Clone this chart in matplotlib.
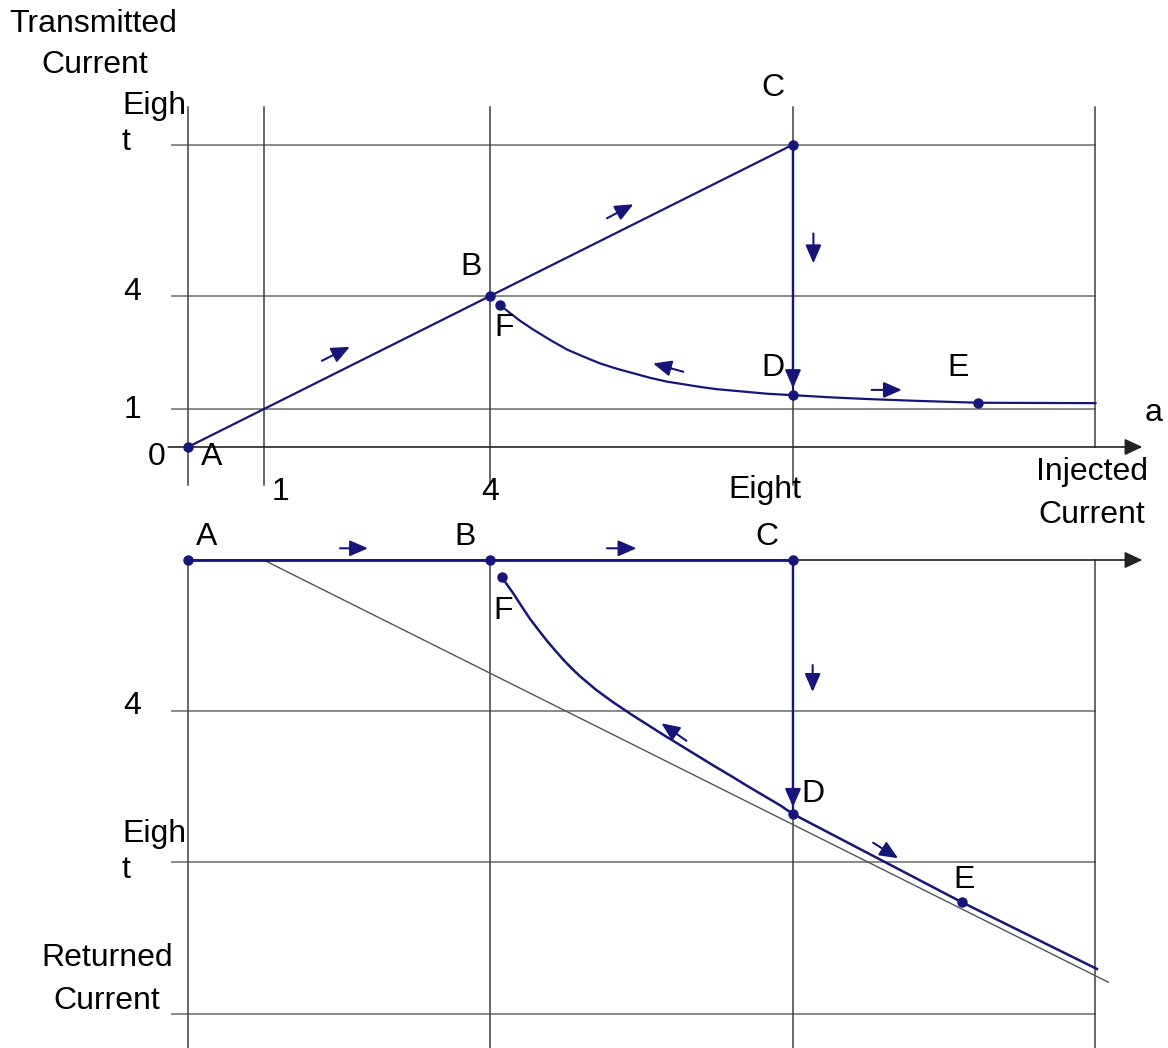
import matplotlib
matplotlib.use("Agg")
import matplotlib.pyplot as plt

plt.rcParams['font.family'] = ['Liberation Sans', 'DejaVu Sans']

NAVY = '#16167a'
GAP = 2.99  # vertical offset between the two panels (in current units)

# --- upper panel: transmitted current vs injected current ---
rise_inj = [0, 1, 4, 8]
rise_trans = [0, 1, 4, 8]
fall_inj = [4.13, 4.26, 4.39, 4.57, 4.79, 5.01, 5.23, 5.45, 5.67, 5.89, 6.11, 6.33,
            6.55, 6.77, 6.99, 7.21, 7.43, 7.65, 8.0, 8.53, 8.97, 9.64, 10.45, 11.2, 12.0]
fall_trans = [3.75, 3.54, 3.34, 3.10, 2.83, 2.58, 2.39, 2.21, 2.07, 1.95, 1.83, 1.73,
              1.66, 1.59, 1.53, 1.49, 1.45, 1.41, 1.37, 1.31, 1.27, 1.22, 1.17, 1.165, 1.16]

pt_names = ['A', 'B', 'C', 'D', 'E', 'F']
top_pt_inj = [0, 4, 8, 8, 10.45, 4.13]
top_pt_trans = [0, 4, 8, 1.37, 1.17, 3.75]

# --- lower panel: returned current vs injected current ---
flat_inj = [0, 4, 8]
flat_ret = [0, 0, 0]
ret_inj = [4.15, 4.19, 4.30, 4.41, 4.52, 4.63, 4.74, 4.85, 4.96, 5.07, 5.18, 5.40,
           5.62, 5.85, 6.07, 6.29, 6.51, 6.73, 6.95, 7.17, 7.39, 7.61, 7.83, 8.0,
           10.23, 12.02]
ret_val = [0.44, 0.57, 0.88, 1.22, 1.55, 1.84, 2.12, 2.38, 2.63, 2.86, 3.07, 3.44,
           3.76, 4.07, 4.35, 4.63, 4.90, 5.17, 5.44, 5.70, 5.97, 6.23, 6.49, 6.72,
           9.05, 10.82]
ref_inj = [1, 12.17]
ref_ret = [0, 11.17]

bot_pt_inj = [0, 4, 8, 8, 10.23, 4.15]
bot_pt_ret = [0, 0, 0, 6.72, 9.05, 0.44]

top_grid_y = [1, 4, 8]
top_grid_x = [0, 1, 4, 8]
bot_grid_r = [4, 8, 12]
bot_grid_x = [0, 4, 8, 12]


def low(r):
    return -GAP - r


fig = plt.figure(figsize=(11.68, 10.48), dpi=100)
ax = fig.add_axes([0, 0, 1, 1])
ax.set_xlim(-2.486, 12.959)
ax.set_ylim(-15.9, 11.825)
ax.axis('off')

hcol, vcol = '#808080', '#404040'

# grid of the upper panel
for y in top_grid_y:
    ax.plot([-0.21, 12], [y, y], color=hcol, lw=1.3, zorder=1)
for x in top_grid_x:
    ax.plot([x, x], [9.0, -1.0], color=vcol, lw=1.1, zorder=1)
ax.plot([12, 12], [9.0, 0], color=vcol, lw=1.1, zorder=1)

# grid of the lower panel
for r in bot_grid_r:
    ax.plot([-0.21, 12], [low(r), low(r)], color=hcol, lw=1.3, zorder=1)
for x in bot_grid_x:
    ax.plot([x, x], [low(0), -16], color=vcol, lw=1.1, zorder=1)

# horizontal axes with arrow heads
axis_kw = dict(arrowstyle='-|>,head_length=0.6,head_width=0.28', color='#222222',
               lw=1.2, mutation_scale=18, shrinkA=0, shrinkB=0)
ax.annotate('', xy=(12.62, 0), xytext=(-0.26, 0), arrowprops=axis_kw, zorder=2)
ax.annotate('', xy=(12.62, low(0)), xytext=(0, low(0)), arrowprops=axis_kw, zorder=2)

head = '-|>,head_length=0.55,head_width=0.24'

# upper panel curves
ax.plot(rise_inj, rise_trans, color=NAVY, lw=1.6, zorder=3)
ax.plot(fall_inj, fall_trans, color=NAVY, lw=1.6, zorder=3, solid_joinstyle='round')
ax.plot([8, 8], [8, 1.37], color=NAVY, lw=1.6, zorder=3)
ax.annotate('', xy=(8, 1.37), xytext=(8, 8),
            arrowprops=dict(arrowstyle=head, color=NAVY, lw=1.6, mutation_scale=20,
                            shrinkA=0, shrinkB=5), zorder=3)
ax.plot(top_pt_inj, top_pt_trans, 'o', color=NAVY, ms=6.5, zorder=4)

# lower panel curves
ax.plot(ref_inj, [low(r) for r in ref_ret], color='#555555', lw=1.0, zorder=2)
ax.plot(flat_inj, [low(r) for r in flat_ret], color=NAVY, lw=2.0, zorder=3)
ax.plot(ret_inj, [low(r) for r in ret_val], color=NAVY, lw=1.8, zorder=3,
        solid_joinstyle='round')
ax.plot([8, 8], [low(0), low(6.72)], color=NAVY, lw=1.6, zorder=3)
ax.annotate('', xy=(8, low(6.72)), xytext=(8, low(0)),
            arrowprops=dict(arrowstyle=head, color=NAVY, lw=1.6, mutation_scale=20,
                            shrinkA=0, shrinkB=5), zorder=3)
ax.plot(bot_pt_inj, [low(r) for r in bot_pt_ret], 'o', color=NAVY, ms=6.5, zorder=4)

# small arrows showing the direction of travel
direction_arrows = [
    (1.77, 2.28, 2.14, 2.65), (5.54, 6.05, 5.89, 6.42), (8.27, 5.65, 8.27, 4.86),
    (6.55, 1.99, 6.15, 2.21), (9.04, 1.51, 9.44, 1.51),
    (2.01, -2.68, 2.38, -2.68), (5.54, -2.68, 5.93, -2.68), (8.26, -5.77, 8.26, -6.48),
    (6.59, -7.77, 6.26, -7.31), (9.06, -10.47, 9.39, -10.88),
]
for x0, y0, x1, y1 in direction_arrows:
    ax.annotate('', xy=(x1, y1), xytext=(x0, y0),
                arrowprops=dict(arrowstyle=head, color=NAVY, lw=1.5, mutation_scale=20,
                                shrinkA=0, shrinkB=0), zorder=3)

fs = 23
txt = dict(fontsize=fs, color='black', ha='center', va='center')

# axis titles
ax.text(-1.256, 11.19, 'Transmitted', **txt)
ax.text(-1.236, 10.11, 'Current', **txt)
ax.text(-1.075, -13.52, 'Returned', **txt)
ax.text(-1.075, -14.66, 'Current', **txt)
ax.text(11.95, -0.66, 'Injected', **txt)
ax.text(11.95, -1.80, 'Current', **txt)
ax.text(12.77, 0.90, 'a', **txt)

# tick labels
ax.text(-0.873, 8.81, 'Eigh', fontsize=fs, ha='left', va='baseline')
ax.text(-0.873, 7.86, 't', fontsize=fs, ha='left', va='baseline')
ax.text(-0.873, -10.45, 'Eigh', fontsize=fs, ha='left', va='baseline')
ax.text(-0.873, -11.40, 't', fontsize=fs, ha='left', va='baseline')
ax.text(-0.74, 4.10, '4', **txt)
ax.text(-0.74, 0.98, '1', **txt)
ax.text(-0.42, -0.26, '0', **txt)
ax.text(-0.74, -6.85, '4', **txt)
ax.text(1.22, -1.19, '1', **txt)
ax.text(4.0, -1.19, '4', **txt)
ax.text(7.63, -1.14, 'Eight', **txt)

# point labels
top_lbl = {'A': (0.317, -0.26), 'B': (3.74, 4.77), 'C': (7.73, 9.51),
           'D': (7.73, 2.09), 'E': (10.18, 2.09), 'F': (4.18, 3.15)}
bot_lbl = {'A': (0.24, -2.38), 'B': (3.66, -2.38), 'C': (7.66, -2.38),
           'D': (8.26, -9.17), 'E': (10.26, -11.46), 'F': (4.17, -4.34)}
for name in pt_names:
    ax.text(*top_lbl[name], name, **txt)
    ax.text(*bot_lbl[name], name, **txt)

fig.savefig('out.png', dpi=100)
